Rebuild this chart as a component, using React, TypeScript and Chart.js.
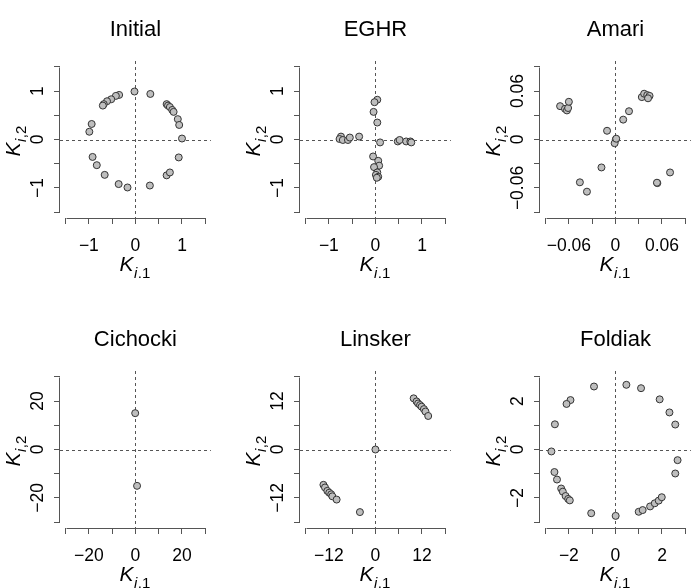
import React, { useEffect, useRef } from "react";
import { Chart, registerables } from "chart.js";
Chart.register(...registerables);

// ---------- data ----------
const initialX = [-0.02, 0.32, -0.35, -0.42, -0.52, -0.61, -0.68, -0.70, -0.94, -0.99, -0.92, -0.83, -0.66, -0.36, -0.17, 0.31, 0.67, 0.74, 0.93, 1.00, 0.67, 0.70, 0.74, 0.79, 0.82, 0.91, 0.94];
const initialY = [0.99, 0.94, 0.92, 0.90, 0.83, 0.79, 0.73, 0.70, 0.32, 0.16, -0.36, -0.53, -0.73, -0.92, -0.99, -0.95, -0.74, -0.68, -0.37, 0.02, 0.73, 0.70, 0.67, 0.61, 0.57, 0.42, 0.30];

const eghrX = [0.04, -0.02, -0.04, 0.04, 0.10, -0.74, -0.77, -0.70, -0.59, -0.55, -0.35, 0.48, 0.52, 0.66, 0.75, 0.77, -0.05, 0.06, 0.08, -0.03, 0.04, 0.01, 0.06, 0.03];
const eghrY = [0.82, 0.77, 0.57, 0.35, -0.06, 0.06, 0.01, -0.01, -0.01, 0.04, 0.06, -0.04, -0.01, -0.04, -0.04, -0.06, -0.35, -0.44, -0.54, -0.57, -0.68, -0.73, -0.77, -0.79];

const amariX = [-0.0713, -0.065, -0.0625, -0.061, -0.060, 0.0175, 0.010, 0.034, 0.037, 0.041, 0.044, 0.042, -0.0108, 0.0005, -0.001, 0.001, -0.018, -0.0458, -0.0367, 0.054, 0.0535, 0.0704];
const amariY = [0.0413, 0.038, 0.036, 0.039, 0.0467, 0.035, 0.0246, 0.0525, 0.0567, 0.055, 0.054, 0.051, 0.0108, 0.0, -0.0046, 0.001, -0.0346, -0.053, -0.0646, -0.054, -0.0535, -0.0408];

const cichockiX = [-0.1, 0.7];
const cichockiY = [15.0, -15.0];

const linskerX = [0, 9.85, 10.6, 11.0, 11.5, 11.9, 12.5, 12.9, 13.6, -13.4, -13.0, -12.4, -11.9, -11.4, -11.1, -10.0, -4.0];
const linskerY = [0, 12.67, 11.9, 11.4, 11.0, 10.6, 10.0, 9.4, 8.3, -8.75, -9.4, -10.25, -10.7, -11.1, -11.6, -12.4, -15.5];

const foldiakX = [0.47, 1.10, -0.92, -1.93, -2.10, 1.90, 2.32, 2.57, -2.60, -2.75, 2.67, 2.57, -2.62, -2.51, -2.33, -2.26, -2.14, -2.03, -1.96, -1.04, 0.01, 1.00, 1.17, 1.49, 1.69, 1.86, 1.99];
const foldiakY = [2.67, 2.53, 2.60, 2.04, 1.88, 2.07, 1.53, 1.03, 1.04, -0.08, -0.44, -0.99, -0.93, -1.24, -1.61, -1.74, -1.92, -2.04, -2.10, -2.63, -2.74, -2.57, -2.50, -2.35, -2.22, -2.11, -1.97];

// tick positions and labelled ticks
const unitTicks = [-1.5, -1, -0.5, 0, 0.5, 1, 1.5];
const unitLabels = [-1, 0, 1];
const amariTicks = [-0.09, -0.06, -0.03, 0, 0.03, 0.06, 0.09];
const amariLabels = [-0.06, 0, 0.06];
const cichockiTicks = [-30, -20, -10, 0, 10, 20, 30];
const cichockiLabels = [-20, 0, 20];
const linskerTicks = [-18, -12, -6, 0, 6, 12, 18];
const linskerLabels = [-12, 0, 12];
const foldiakTicks = [-3, -2, -1, 0, 1, 2, 3];
const foldiakLabels = [-2, 0, 2];

const titles = ["Initial", "EGHR", "Amari", "Cichocki", "Linsker", "Foldiak"];

type Panel = {
  title: string;
  xs: number[];
  ys: number[];
  ticks: number[];
  labels: number[];
};

const panels: Panel[] = [
  { title: titles[0], xs: initialX, ys: initialY, ticks: unitTicks, labels: unitLabels },
  { title: titles[1], xs: eghrX, ys: eghrY, ticks: unitTicks, labels: unitLabels },
  { title: titles[2], xs: amariX, ys: amariY, ticks: amariTicks, labels: amariLabels },
  { title: titles[3], xs: cichockiX, ys: cichockiY, ticks: cichockiTicks, labels: cichockiLabels },
  { title: titles[4], xs: linskerX, ys: linskerY, ticks: linskerTicks, labels: linskerLabels },
  { title: titles[5], xs: foldiakX, ys: foldiakY, ticks: foldiakTicks, labels: foldiakLabels },
];

// ---------- layout ----------
const CANVAS_W = 217;
const CANVAS_H = 278;
const LEFTS = [0, 240, 480];
const TOPS = [0, 310];
const FONT = '"Liberation Sans", Arial, sans-serif';
const AXIS_COLOR = "#555";
const TICK_FONT = 17.5;

const fmt = (v: number) => {
  const s = String(Math.abs(v));
  return v < 0 ? "\u2212" + s : s;
};

function drawKLabel(ctx: CanvasRenderingContext2D, sub: string, x: number, y: number, subDy: number) {
  ctx.fillStyle = "#000";
  ctx.textAlign = "left";
  ctx.textBaseline = "alphabetic";
  ctx.font = `italic 21px ${FONT}`;
  ctx.fillText("K", x, y);
  let cx = x + ctx.measureText("K").width + 0.5;
  const sy = y + subDy;
  ctx.font = `italic 15px ${FONT}`;
  ctx.fillText("i", cx, sy);
  cx += ctx.measureText("i").width + 0.5;
  ctx.font = `15px ${FONT}`;
  ctx.fillText(",", cx, sy);
  cx += ctx.measureText(",").width;
  ctx.fillText(sub, cx, sy);
}

function makePlugin(p: Panel) {
  return {
    id: "rstyle",
    beforeDatasetsDraw(chart: any) {
      const { ctx, chartArea: ca, scales } = chart;
      const x0 = Math.round(scales.x.getPixelForValue(0)) + 0.5;
      const y0 = Math.round(scales.y.getPixelForValue(0)) + 0.5;
      ctx.save();
      ctx.strokeStyle = AXIS_COLOR;
      ctx.lineWidth = 1;
      ctx.setLineDash([3, 3]);
      ctx.beginPath();
      ctx.moveTo(ca.left, y0);
      ctx.lineTo(ca.right, y0);
      ctx.moveTo(x0, ca.top);
      ctx.lineTo(x0, ca.bottom);
      ctx.stroke();
      ctx.restore();
    },
    afterDraw(chart: any) {
      const { ctx, chartArea: ca, scales } = chart;
      const xs = scales.x;
      const ys = scales.y;
      const first = p.ticks[0];
      const last = p.ticks[p.ticks.length - 1];
      ctx.save();
      ctx.strokeStyle = AXIS_COLOR;
      ctx.lineWidth = 1;
      ctx.setLineDash([]);
      // x axis line
      const by = Math.round(ca.bottom) + 0.5;
      ctx.beginPath();
      ctx.moveTo(Math.round(xs.getPixelForValue(first)) + 0.5, by);
      ctx.lineTo(Math.round(xs.getPixelForValue(last)) + 0.5, by);
      ctx.stroke();
      // y axis line
      const lx = Math.round(ca.left) - 0.5;
      ctx.beginPath();
      ctx.moveTo(lx, Math.round(ys.getPixelForValue(first)) + 0.5);
      ctx.lineTo(lx, Math.round(ys.getPixelForValue(last)) + 0.5);
      ctx.stroke();
      // y tick labels (rotated, parallel to axis)
      ctx.fillStyle = "#000";
      ctx.font = `${TICK_FONT}px ${FONT}`;
      ctx.textAlign = "center";
      ctx.textBaseline = "middle";
      for (const v of p.labels) {
        const py = ys.getPixelForValue(v);
        ctx.save();
        ctx.translate(ca.left - 21.5, py);
        ctx.rotate(-Math.PI / 2);
        ctx.fillText(fmt(v), 0, 0);
        ctx.restore();
      }
      // axis titles
      const cxp = (ca.left + ca.right) / 2;
      const cyp = (ca.top + ca.bottom) / 2;
      drawKLabel(ctx, "1", cxp - 16, ca.bottom + 52.5, 7);
      ctx.save();
      ctx.translate(ca.left - 40, cyp + 17);
      ctx.rotate(-Math.PI / 2);
      drawKLabel(ctx, "2", 0, 0, 6);
      ctx.restore();
      ctx.restore();
    },
  };
}

function PanelChart({ p, left, top }: { p: Panel; left: number; top: number }) {
  const ref = useRef<HTMLCanvasElement | null>(null);
  useEffect(() => {
    if (!ref.current) return;
    const lim = p.ticks[p.ticks.length - 1] * 1.08;
    const axisCommon = (isX: boolean) => ({
      type: "linear" as const,
      position: isX ? "bottom" : "left",
      min: -lim,
      max: lim,
      afterBuildTicks: (s: any) => {
        s.ticks = p.ticks.map((v) => ({ value: v }));
      },
      afterFit: (s: any) => {
        if (isX) s.height = 60;
        else s.width = 60;
      },
      grid: {
        drawOnChartArea: false,
        drawTicks: true,
        tickLength: 6,
        color: AXIS_COLOR,
        lineWidth: 1,
      },
      border: { display: false },
      ticks: {
        display: isX,
        autoSkip: false,
        maxRotation: 0,
        minRotation: 0,
        padding: 11.5,
        color: "#000",
        font: { family: FONT, size: TICK_FONT },
        callback: (v: any) => (p.labels.includes(Number(v)) ? fmt(Number(v)) : ""),
      },
    });
    const chart = new Chart(ref.current, {
      type: "scatter",
      data: {
        datasets: [
          {
            data: p.xs.map((x, i) => ({ x, y: p.ys[i] })),
            pointRadius: 3.5,
            pointBackgroundColor: "#bebebe",
            pointBorderColor: "#333",
            pointBorderWidth: 1,
            pointHoverRadius: 3.5,
          },
        ],
      },
      options: {
        animation: false,
        responsive: false,
        maintainAspectRatio: false,
        devicePixelRatio: 1,
        layout: { padding: 0 },
        events: [],
        plugins: {
          legend: { display: false },
          tooltip: { enabled: false },
          title: {
            display: true,
            text: p.title,
            fullSize: false,
            color: "#000",
            font: { family: FONT, size: 22, weight: "normal", lineHeight: 1.2 },
            padding: { top: 17, bottom: 17.6 },
          },
        },
        scales: {
          x: axisCommon(true) as any,
          y: axisCommon(false) as any,
        },
      },
      plugins: [makePlugin(p)],
    });
    return () => chart.destroy();
  }, [p]);
  return (
    <canvas
      ref={ref}
      width={CANVAS_W}
      height={CANVAS_H}
      style={{ position: "absolute", left, top, width: CANVAS_W, height: CANVAS_H }}
    />
  );
}

export default function App() {
  return (
    <div style={{ position: "absolute", left: 0, top: 0, width: 697, height: 588, background: "#fff" }}>
      {panels.map((p, i) => (
        <PanelChart key={p.title} p={p} left={LEFTS[i % 3]} top={TOPS[Math.floor(i / 3)]} />
      ))}
    </div>
  );
}
